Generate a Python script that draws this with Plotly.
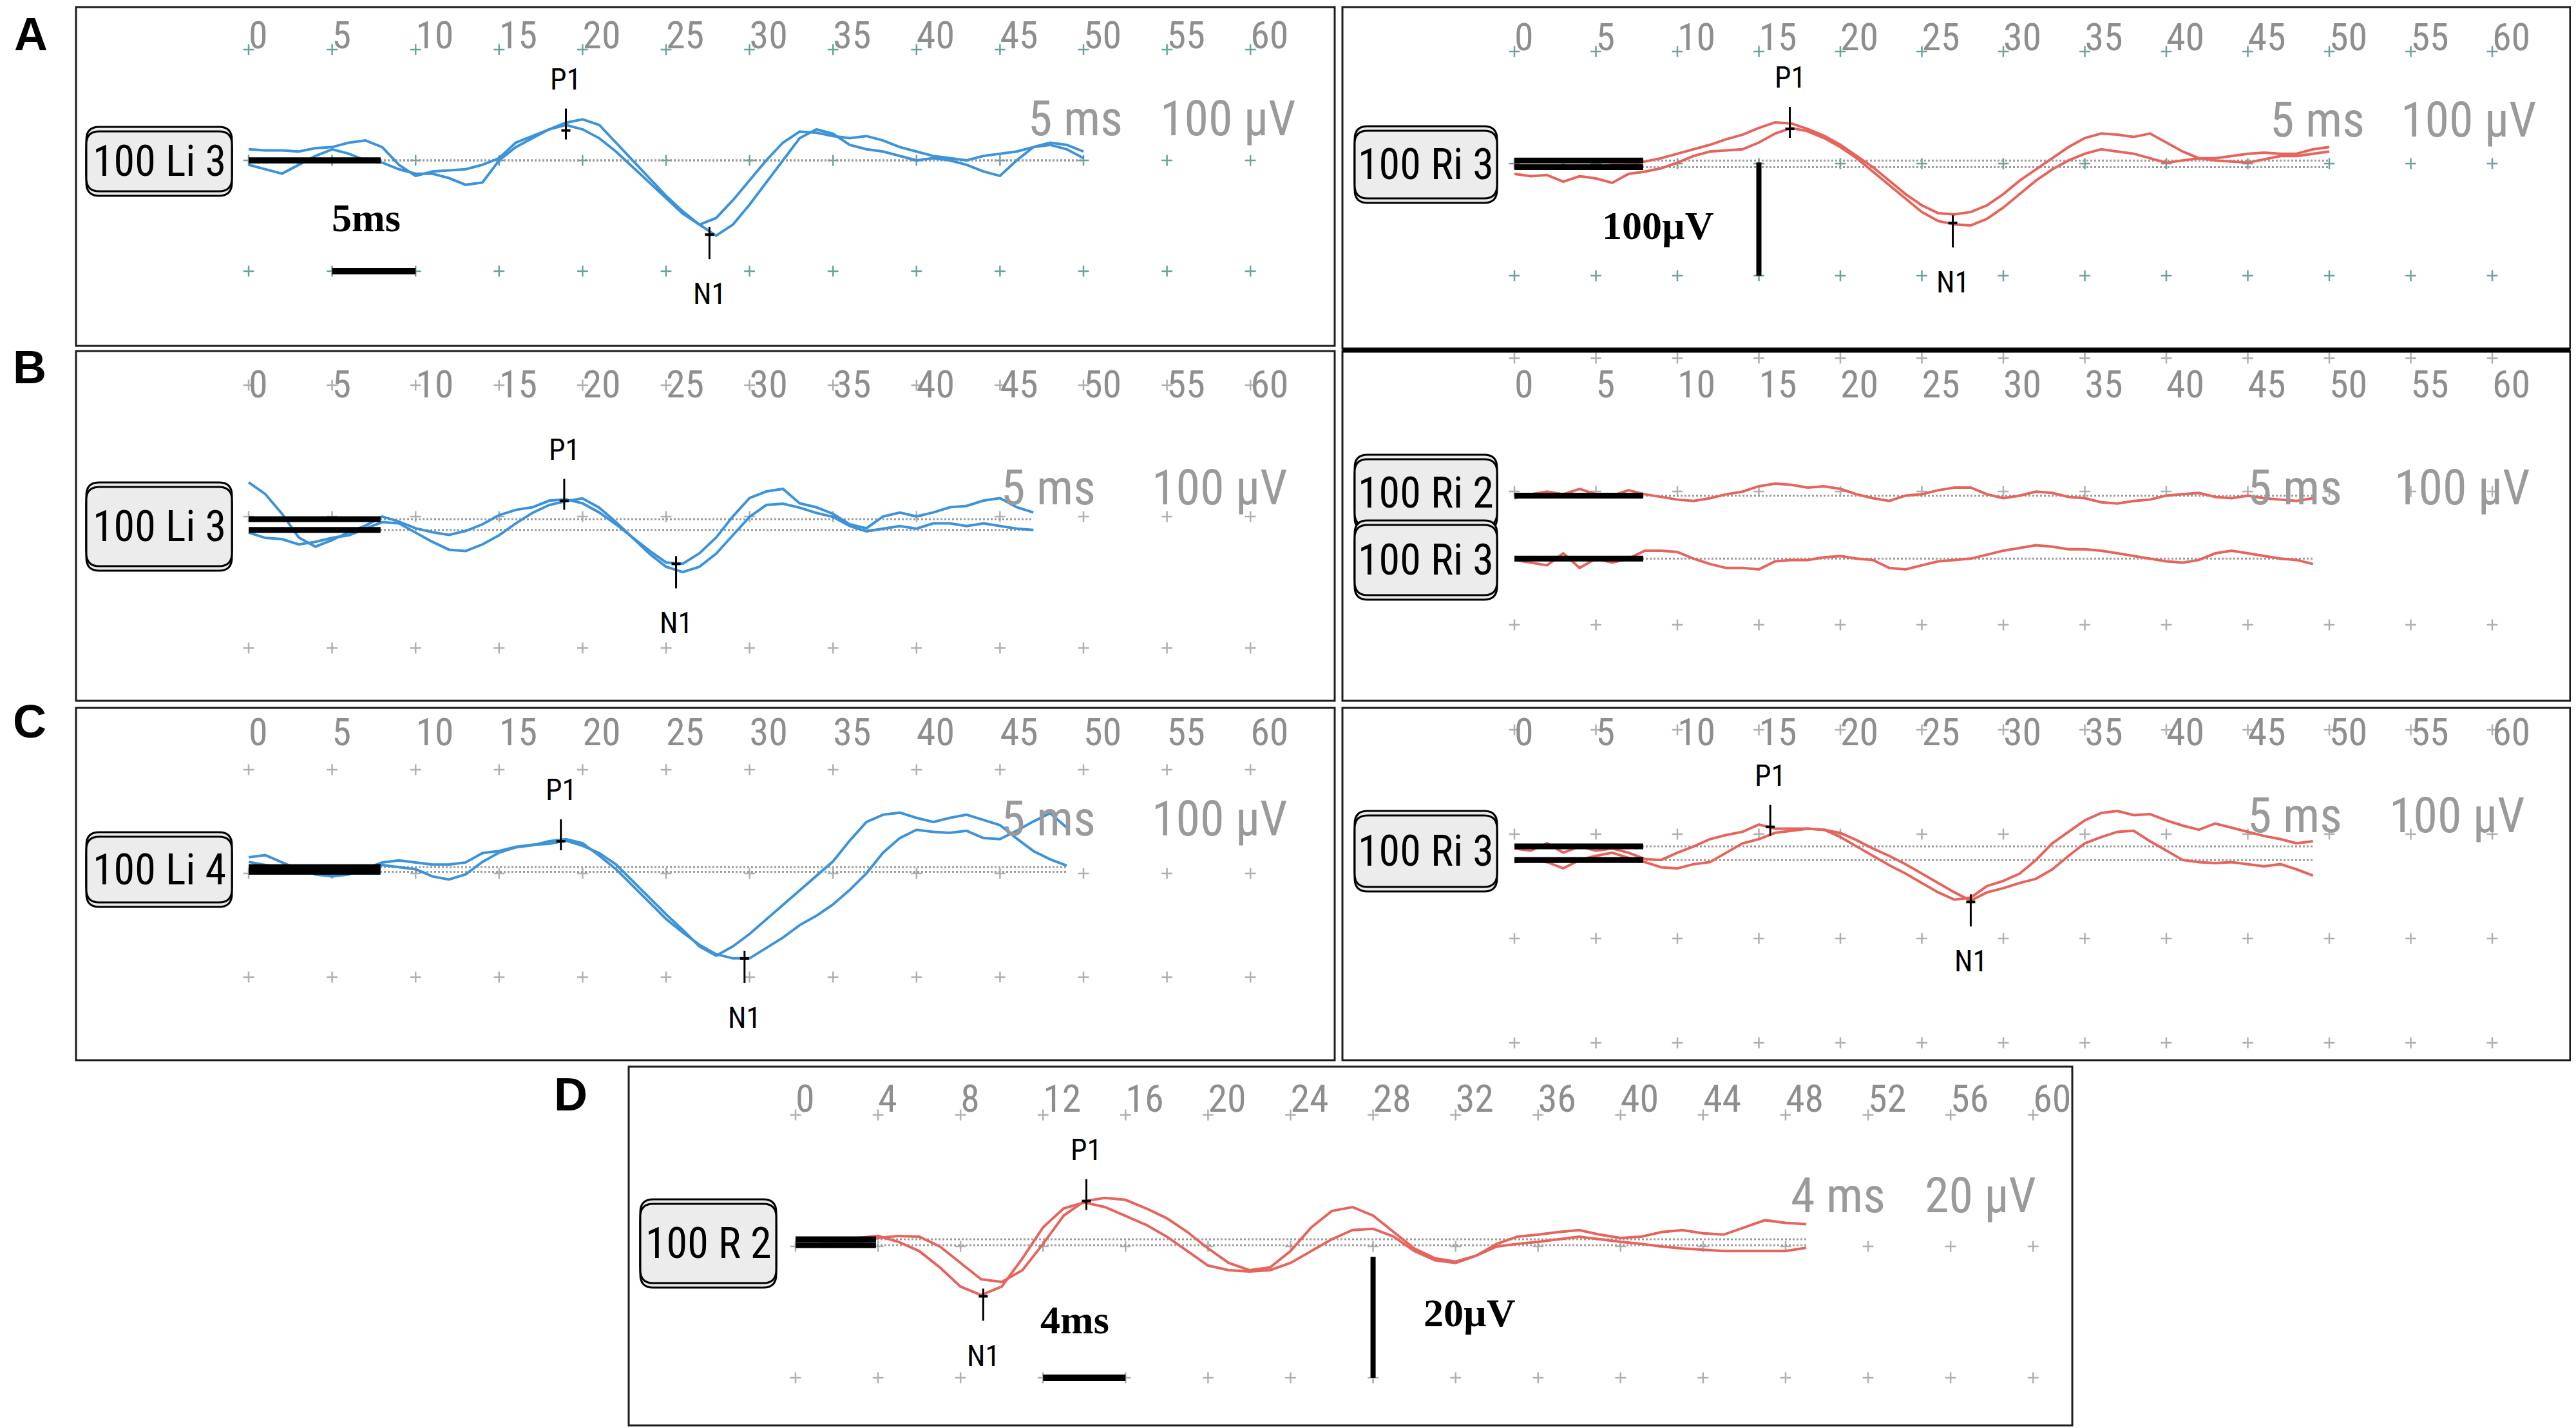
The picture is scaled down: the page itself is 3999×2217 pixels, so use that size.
"""
Evoked potential recordings (P1 / N1), panels A-D, redrawn with plotly.
"""

import plotly.graph_objects as go

W, H = 3999, 2217

BLUE = "#3d93d8"
RED = "#e5655c"
TEAL = "#6aa39d"
GREY = "#b0b0b0"
TICK_GREY = "#8e8e8e"
UNIT_GREY = "#9a9a9a"

NARROW = "Liberation Sans Narrow, Arial Narrow, Roboto Condensed, Liberation Sans, sans-serif"
SERIF = "Liberation Serif, Times New Roman, serif"
BOLD_SANS = "Liberation Sans, Arial, sans-serif"

# sampling grid of the traces (ms)
T_MS = [0, 1, 2, 3, 4, 5, 6, 7, 8, 9, 10, 11, 12, 13, 14, 15, 16, 17, 18, 19, 20,
        21, 22, 23, 24, 25, 26, 27, 28, 29, 30, 31, 32, 33, 34, 35, 36, 37, 38, 39, 40,
        41, 42, 43, 44, 45, 46, 47, 48, 49, 50]

TICKS_5 = [0, 5, 10, 15, 20, 25, 30, 35, 40, 45, 50, 55, 60]
TICKS_4 = [0, 4, 8, 12, 16, 20, 24, 28, 32, 36, 40, 44, 48, 52, 56, 60]

# --- traces, µV relative to their own baseline, one sample per ms ---
AL_1 = [10, 9, 9, 8, 11, 12, 16, 18, 12, -4, -14, -10, -9, -8, -4, 2, 16, 22, 28, 32,
        28, 20, 8, -6, -20, -34, -48, -58, -52, -36, -18, 0, 16, 26, 25, 22, 20, 22, 18, 12,
        8, 4, 2, 0, 4, 6, 8, 12, 14, 10, 2]
AL_2 = [-4, -8, -12, -4, 4, 10, 6, 0, -2, -8, -12, -12, -16, -22, -20, 0, 12, 20, 28, 34,
        37, 32, 16, 0, -16, -32, -46, -58, -68, -58, -40, -20, 0, 20, 28, 24, 14, 10, 8, 4,
        0, 2, 0, -4, -10, -14, 0, 12, 16, 14, 8]

AR_1 = [-4, -6, -7, -4, -7, -6, -4, -4, -1, 2, 6, 10, 14, 19, 23, 29, 34, 33, 28, 22,
        14, 4, -6, -18, -30, -40, -47, -48, -46, -40, -30, -18, -8, 2, 12, 20, 24, 23, 21, 24,
        16, 8, 2, 2, 4, 6, 7, 6, 6, 10, 12]
AR_2 = [-6, -8, -7, -13, -8, -10, -14, -6, -4, -1, 4, 10, 14, 15, 16, 22, 30, 35, 32, 26,
        18, 8, -4, -16, -28, -40, -48, -51, -52, -46, -36, -24, -12, -2, 6, 12, 16, 14, 12, 8,
        4, 6, 8, 6, 5, 4, 7, 10, 10, 12, 14]

BL_1 = [28, 19, 4, -14, -21, -16, -10, -5, 2, -2, -7, -10, -12, -9, -4, 3, 7, 9, 14, 15,
        12, 5, -4, -14, -24, -33, -34, -26, -14, 2, 16, 21, 23, 12, 9, 4, -4, -7, 2, 5,
        2, 5, 9, 10, 14, 16, 9, 5]
BL_2 = [-2, -6, -7, -11, -9, -6, -4, 1, 6, 5, -2, -9, -15, -16, -11, -4, 5, 13, 19, 22,
        24, 17, 6, -6, -18, -28, -32, -28, -18, -4, 10, 19, 20, 17, 13, 10, 3, -1, 1, 3,
        1, 5, 5, 3, 5, 3, 1, 0]

BR_1 = [-2, 1, 3, 1, 5, 1, 0, 4, 1, -1, -3, -4, -2, 1, 3, 7, 9, 8, 6, 7,
        5, 1, -2, -4, 0, 1, 4, 6, 6, 1, -2, 0, 3, 2, -1, -2, -5, -6, -4, -3,
        0, 1, 2, -1, -2, 0, -2, -3, -4, -2]
BR_2 = [-1, -3, -5, 4, -7, 0, -3, 0, 6, 6, 5, 0, -4, -7, -7, -8, -2, -1, -1, 1,
        2, 0, -1, -7, -8, -5, -2, -1, 0, 3, 6, 8, 10, 9, 7, 7, 6, 4, 2, 0,
        -2, -3, -1, 4, 6, 4, 2, 0, -1, -4]

CL_1 = [14, 16, 9, 2, -2, -3, -2, 3, 9, 11, 9, 7, 7, 9, 18, 20, 24, 26, 27, 30,
        25, 18, 7, -9, -25, -41, -56, -72, -81, -72, -60, -46, -32, -18, -4, 10, 30, 48, 55, 57,
        52, 48, 52, 55, 50, 45, 32, 20, 12, 6]
CL_2 = [5, 2, 0, -2, -7, -9, -7, -2, 2, 0, -2, -9, -12, -7, 5, 14, 19, 21, 25, 27,
        23, 11, -2, -18, -34, -50, -63, -75, -84, -88, -88, -78, -68, -56, -47, -36, -22, -6, 14, 28,
        36, 34, 33, 35, 28, 27, 35, 44, 52, 38]

CR_1 = [-2, -4, 3, -6, 0, -4, -2, -6, -12, -13, -6, 0, 7, 11, 14, 21, 17, 17, 17, 16,
        9, 0, -9, -18, -26, -35, -44, -51, -49, -38, -33, -26, -13, 3, 14, 25, 32, 34, 30, 31,
        25, 20, 16, 22, 18, 14, 10, 7, 3, 5]
CR_2 = [-2, 0, -2, -8, 0, 4, 7, 2, -2, -7, -8, -4, -2, 7, 16, 20, 26, 28, 30, 29,
        26, 19, 11, 4, -4, -13, -22, -31, -39, -31, -27, -22, -18, -9, 4, 16, 22, 27, 28, 18,
        9, 0, -2, -3, -2, -4, -6, -4, -9, -15]

D_1 = [0, 0, -0.4, -0.5, 0.2, 0.5, 0.4, -1.1, -3.6, -6.1, -6.5, -4.7, -0.7, 3.6, 5.8, 6.3,
       6.0, 4.7, 3.2, 1.1, -1.4, -3.6, -4.7, -4.3, -1.8, 1.8, 4.3, 4.9, 3.6, 1.1, -1.4, -2.9,
       -3.4, -2.5, -0.7, 0.4, 0.7, 1.1, 1.4, 0.7, 0.2, 0.4, 1.1, 1.4, 0.9, 0.7, 1.8, 2.9, 2.5, 2.3]
D_2 = [0, 0.2, 0.4, 1.1, 1.4, 0.5, -0.9, -3.4, -6.3, -7.6, -6.3, -2.0, 2.7, 5.6, 6.5, 5.8,
       4.5, 3.1, 1.3, -0.9, -3.1, -3.8, -4.0, -3.8, -2.7, -0.9, 0.9, 2.3, 2.5, 1.3, -0.9, -2.3,
       -2.7, -1.6, -0.2, 0.2, 0.5, 0.9, 1.3, 0.9, 0.5, 0.2, -0.2, -0.5, -0.7, -0.9, -0.9, -0.9,
       -0.9, -0.4]

# baseline of each trace, µV above the middle grid row
OFFSETS_AL = [0, 0]
OFFSETS_AR = [2.8, -3.2]
OFFSETS_BL = [-1.9, -10.2]
OFFSETS_BR = [-3.1, -50.4]
OFFSETS_CL = [1.6, 6.1]
OFFSETS_CR = [-11.8, -24.8]
OFFSETS_D = [1.08, 0.18]

# P1 and N1 marks: (latency ms, amplitude µV)
PEAKS_AL = [(19.0, 27), (27.6, -67)]
PEAKS_AR = [(16.9, 31), (26.9, -53)]
PEAKS_BL = [(18.9, 12), (25.6, -36)]
PEAKS_CL = [(18.7, 31), (29.7, -82)]
PEAKS_CR = [(15.7, 7), (28.0, -65)]
PEAKS_D = [(14.1, 6.9), (9.1, -7.6)]

# channel labels
LABELS_AL = ["100 Li 3"]
LABELS_AR = ["100 Ri 3"]
LABELS_BL = ["100 Li 3"]
LABELS_BR = ["100 Ri 2", "100 Ri 3"]
LABELS_CL = ["100 Li 4"]
LABELS_CR = ["100 Ri 3"]
LABELS_D = ["100 R 2"]

# display sensitivity captions
UNITS_LR = ["5 ms", "100 µV"]
UNITS_D = ["4 ms", "20 µV"]


def ax_ids(n):
    s = "" if n == 1 else str(n)
    return "x" + s, "y" + s, "xaxis" + s, "yaxis" + s


def paper(px, py):
    return px / W, 1 - py / H


def rounded_path(x0, y0, x1, y1, r):
    pts = [("M", x0 + r, y0), ("L", x1 - r, y0), ("Q", x1, y0, x1, y0 + r),
           ("L", x1, y1 - r), ("Q", x1, y1, x1 - r, y1), ("L", x0 + r, y1),
           ("Q", x0, y1, x0, y1 - r), ("L", x0, y0 + r), ("Q", x0, y0, x0 + r, y0)]
    out = []
    for p in pts:
        cmd, nums = p[0], p[1:]
        coords = []
        for i in range(0, len(nums), 2):
            fx, fy = paper(nums[i], nums[i + 1])
            coords.append(f"{fx:.5f},{fy:.5f}")
        out.append(cmd + " " + " ".join(coords))
    return " ".join(out) + " Z"


fig = go.Figure()
shapes = []
annotations = []


def add_panel(n, g, traces, offsets, color, ticks, units, unit_pos, peaks,
              labels, label_boxes, grid_color):
    xref, yref, xkey, ykey = ax_ids(n)
    bx0, by0, bx1, by1 = g["box"]
    x0, sx, y0, sy = g["x0"], g["sx"], g["y0"], g["sy"]
    fig.update_layout(**{
        xkey: dict(domain=[bx0 / W, bx1 / W], range=[(bx0 - x0) / sx, (bx1 - x0) / sx],
                   visible=False, anchor=yref, fixedrange=True),
        ykey: dict(domain=[1 - by1 / H, 1 - by0 / H], range=[(y0 - by1) / sy, (y0 - by0) / sy],
                   visible=False, anchor=xref, fixedrange=True),
    })
    common = dict(xaxis=xref, yaxis=yref, hoverinfo="skip", showlegend=False)

    # grid crosses
    gx, gy = [], []
    for row in g["rows"]:
        gx += ticks
        gy += [row] * len(ticks)
    fig.add_trace(go.Scatter(x=gx, y=gy, mode="markers",
                             marker=dict(symbol="cross-thin", size=12,
                                         line=dict(color=grid_color, width=2.5)), **common))
    # tick labels along the top
    ly = (y0 - g["label_py"]) / sy
    fig.add_trace(go.Scatter(x=ticks, y=[ly] * len(ticks), mode="text",
                             text=[str(t) for t in ticks], textposition="middle right",
                             textfont=dict(family=NARROW, size=60, color=TICK_GREY),
                             **common))

    for vals, off in zip(traces, offsets):
        fig.add_trace(go.Scatter(x=[0, T_MS[len(vals) - 1]], y=[off, off], mode="lines",
                                 line=dict(color="#9c9c9c", width=3, dash="dot"), **common))
    for vals, off in zip(traces, offsets):
        fig.add_trace(go.Scatter(x=T_MS[:len(vals)], y=[v + off for v in vals], mode="lines",
                                 line=dict(color=color, width=4), **common))
    for off in offsets:
        fig.add_trace(go.Scatter(x=[0, g["bar_end"]], y=[off, off], mode="lines",
                                 line=dict(color="black", width=9), **common))

    # P1 / N1 marks
    for (t, v), name in zip(peaks, ["P1", "N1"]):
        if name == "P1":
            lo, hi, shift = v - 14 / sy, v + 34 / sy, 80
        else:
            lo, hi, shift = v - 38 / sy, v + 12 / sy, -92
        fig.add_trace(go.Scatter(x=[t, t], y=[lo, hi], mode="lines",
                                 line=dict(color="black", width=3), **common))
        fig.add_trace(go.Scatter(x=[t], y=[v], mode="markers",
                                 marker=dict(symbol="line-ew", size=10,
                                             line=dict(color="black", width=4)), **common))
        annotations.append(dict(x=t, y=v, xref=xref, yref=yref, text=name, showarrow=False,
                                yshift=shift, font=dict(family=NARROW, size=46, color="black")))

    # sensitivity captions
    (t_ms, v_cap, t_uv) = unit_pos
    for text, t_left in ((units[0], t_ms), (units[1], t_uv)):
        annotations.append(dict(x=t_left, y=v_cap, xref=xref, yref=yref, text=text,
                                xanchor="left", yanchor="middle", showarrow=False,
                                font=dict(family=NARROW, size=76, color=UNIT_GREY)))

    # channel label boxes
    for text, (lx0, ly0, lx1, ly1) in zip(labels, label_boxes):
        for dy in (-7, 7, 0):
            shapes.append(dict(type="path", xref="paper", yref="paper",
                               path=rounded_path(lx0, ly0 + dy, lx1, ly1 + dy, 20),
                               fillcolor="#ececec", line=dict(color="black", width=3)))
        cx, cy = paper((lx0 + lx1) / 2, (ly0 + ly1) / 2)
        annotations.append(dict(x=cx, y=cy, xref="paper", yref="paper", text=text,
                                xanchor="center", yanchor="middle", showarrow=False,
                                font=dict(family=NARROW, size=66, color="black")))

    # panel frame
    fx0, fy1 = paper(bx0, by0)
    fx1, fy0 = paper(bx1, by1)
    shapes.append(dict(type="rect", xref="paper", yref="paper", x0=fx0, x1=fx1, y0=fy0, y1=fy1,
                       line=dict(color="#1c1c1c", width=3), layer="above"))


GEOM = {
    "AL": dict(box=(110, 3, 2064, 529), x0=378, sx=25.92, y0=241, sy=1.72,
               rows=[100, 0, -100], label_py=52, bar_end=7.9),
    "AR": dict(box=(2076, 3, 3982, 533), x0=2343, sx=25.3, y0=246, sy=1.74,
               rows=[100, 0, -100], label_py=55, bar_end=7.9),
    "BL": dict(box=(110, 537, 2064, 1080), x0=378, sx=25.92, y0=794, sy=2.04,
               rows=[100, 0, -100], label_py=594, bar_end=7.9),
    "BR": dict(box=(2076, 537, 3982, 1080), x0=2343, sx=25.3, y0=755, sy=2.07,
               rows=[100, 0, -100], label_py=594, bar_end=7.9),
    "CL": dict(box=(110, 1091, 2064, 1638), x0=378, sx=25.92, y0=1348, sy=1.61,
               rows=[100, 0, -100], label_py=1134, bar_end=7.9),
    "CR": dict(box=(2076, 1091, 3982, 1638), x0=2343, sx=25.3, y0=1287, sy=1.62,
               rows=[100, 0, -100, -200], label_py=1134, bar_end=7.9),
    "D": dict(box=(968, 1648, 3209, 2205), x0=1227, sx=32.02, y0=1927, sy=10.2,
              rows=[20, 0, -20], label_py=1703, bar_end=3.9),
}

add_panel(1, GEOM["AL"], [AL_1, AL_2], OFFSETS_AL, BLUE, TICKS_5, UNITS_LR, (46.6, 38, 54.5),
          PEAKS_AL, LABELS_AL, [(126, 196, 352, 289)], TEAL)
add_panel(2, GEOM["AR"], [AR_1, AR_2], OFFSETS_AR, RED, TICKS_5, UNITS_LR, (46.3, 39, 54.3),
          PEAKS_AR, LABELS_AR, [(2095, 195, 2316, 300)], TEAL)
add_panel(3, GEOM["BL"], [BL_1, BL_2], OFFSETS_BL, BLUE, TICKS_5, UNITS_LR, (45.0, 22, 54.0),
          PEAKS_BL, LABELS_BL, [(126, 748, 352, 871)], GREY)
add_panel(4, GEOM["BR"], [BR_1, BR_2], OFFSETS_BR, RED, TICKS_5, UNITS_LR, (44.9, 3, 53.9),
          [], LABELS_BR, [(2095, 705, 2316, 809), (2095, 807, 2316, 916)], GREY)
add_panel(5, GEOM["CL"], [CL_1, CL_2], OFFSETS_CL, BLUE, TICKS_5, UNITS_LR, (45.0, 53, 54.0),
          PEAKS_CL, LABELS_CL, [(126, 1291, 352, 1393)], GREY)
add_panel(6, GEOM["CR"], [CR_1, CR_2], OFFSETS_CR, RED, TICKS_5, UNITS_LR, (44.9, 18, 53.6),
          PEAKS_CR, LABELS_CR, [(2095, 1258, 2316, 1369)], GREY)
add_panel(7, GEOM["D"], [D_1, D_2], OFFSETS_D, RED, TICKS_4, UNITS_D, (48.2, 7.7, 54.7),
          PEAKS_D, LABELS_D, [(986, 1861, 1197, 1984)], GREY)

# calibration bars: (panel, orientation, start, end, fixed coordinate, label, label_t, label_v)
CAL_BARS = [
    (1, "h", 5, 10, -100, "5ms", 4.9, -52),
    (2, "v", 1, -100, 15, "100µV", 5.3, -55),
    (7, "h", 12, 16, -20, "4ms", 11.8, -11.2),
    (7, "v", -1.6, -20, 28, "20µV", 30.4, -10.1),
]
for n, orient, a, b, fixed, text, lt, lv in CAL_BARS:
    xref, yref, _, _ = ax_ids(n)
    if orient == "h":
        xs, ys, w = [a, b], [fixed, fixed], 10
    else:
        xs, ys, w = [fixed, fixed], [a, b], 8
    fig.add_trace(go.Scatter(x=xs, y=ys, mode="lines", line=dict(color="black", width=w),
                             xaxis=xref, yaxis=yref, hoverinfo="skip", showlegend=False))
    annotations.append(dict(x=lt, y=lv, xref=xref, yref=yref, text=f"<b>{text}</b>",
                            xanchor="left", yanchor="middle", showarrow=False,
                            font=dict(family=SERIF, size=62, color="black")))

# thick separator above the B right panel
sx0, sy0 = paper(2076, 536)
sx1, _ = paper(3982, 536)
shapes.append(dict(type="line", xref="paper", yref="paper", x0=sx0, x1=sx1, y0=sy0, y1=sy0,
                   line=dict(color="black", width=7), layer="above"))

# panel letters
for letter, px, py in [("A", 40, 45), ("B", 38, 562), ("C", 38, 1112), ("D", 878, 1691)]:
    fx, fy = paper(px, py)
    annotations.append(dict(x=fx, y=fy, xref="paper", yref="paper", text=f"<b>{letter}</b>",
                            xanchor="center", yanchor="middle", showarrow=False,
                            font=dict(family=BOLD_SANS, size=72, color="black")))

fig.update_layout(
    width=W, height=H,
    margin=dict(l=0, r=0, t=0, b=0),
    paper_bgcolor="white",
    plot_bgcolor="rgba(0,0,0,0)",
    showlegend=False,
    shapes=shapes,
    annotations=annotations,
)

fig.write_html("out.html")
